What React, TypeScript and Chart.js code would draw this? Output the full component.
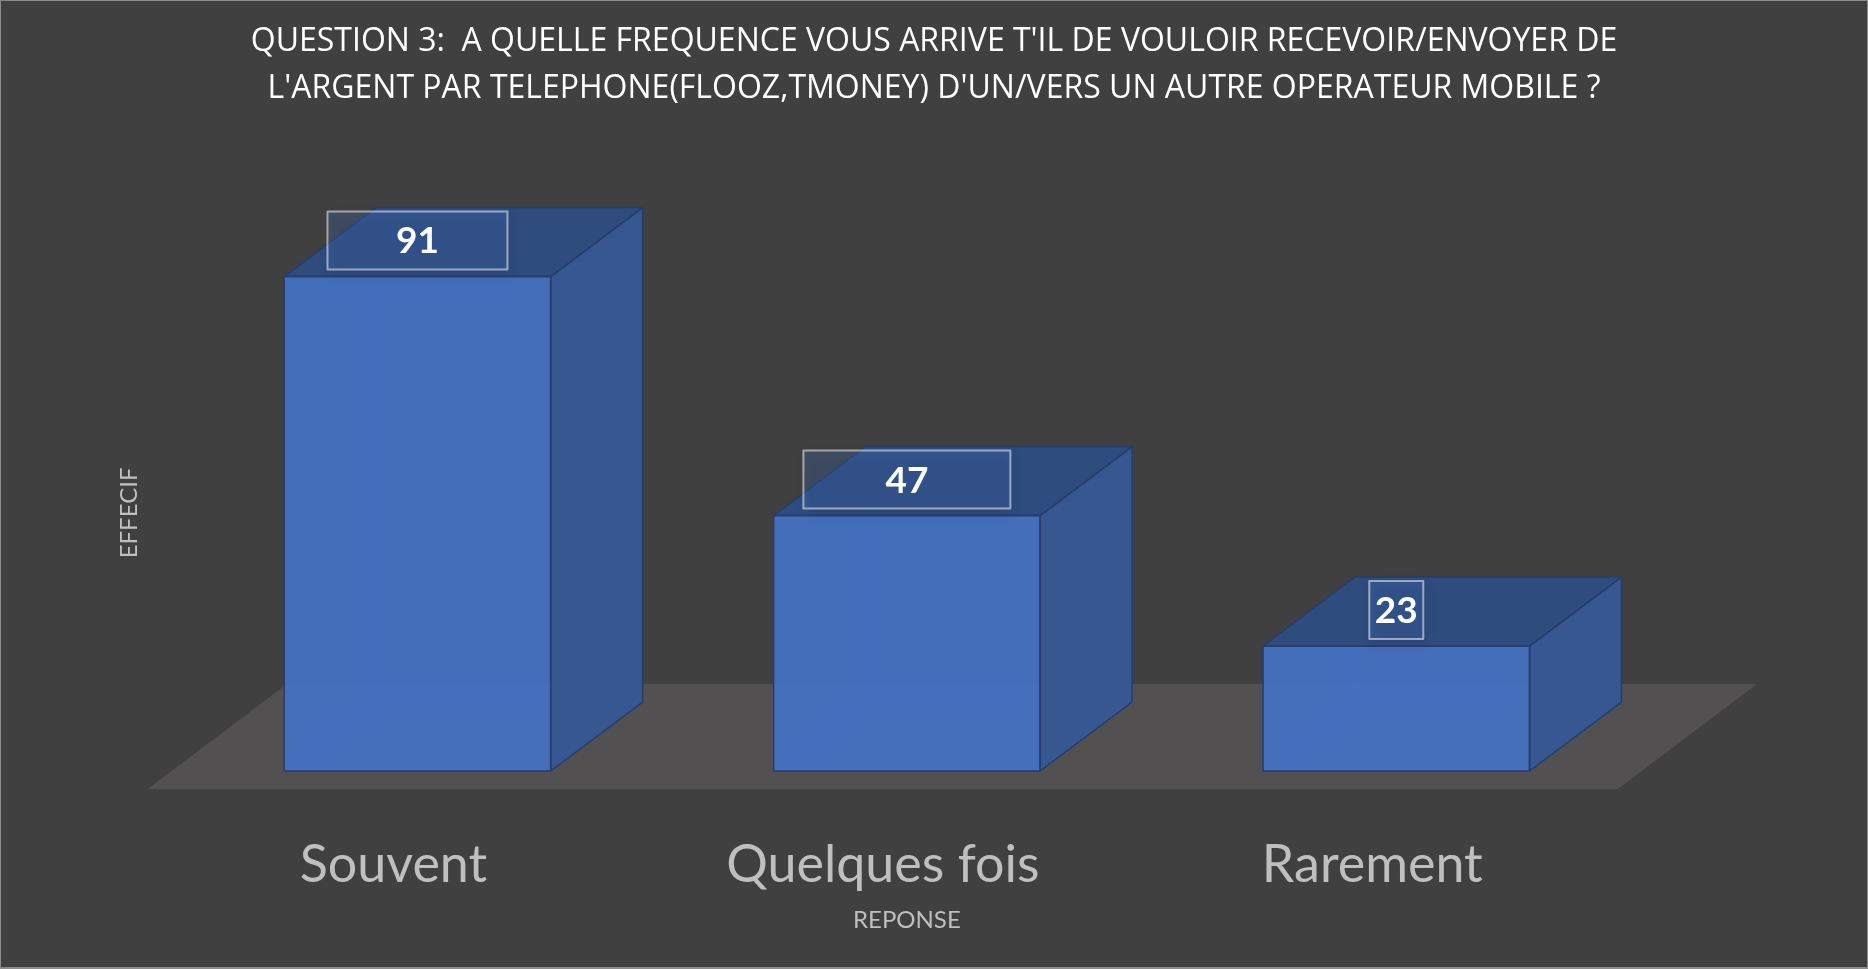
import React, { useEffect, useRef } from 'react';
import { Chart, registerables } from 'chart.js';

Chart.register(...registerables);

// ---- data ----
const categories = ['Souvent', 'Quelques fois', 'Rarement'];
const values = [91, 47, 23];
const titleLines = [
  "QUESTION 3:  A QUELLE FREQUENCE VOUS ARRIVE T'IL DE VOULOIR RECEVOIR/ENVOYER DE",
  "L'ARGENT PAR TELEPHONE(FLOOZ,TMONEY) D'UN/VERS UN AUTRE OPERATEUR MOBILE ?",
];
const xAxisTitle = 'REPONSE';
const yAxisTitle = 'EFFECIF';

// ---- styles ----
const labelBoxWidths = [180, 207, 54];
const BG = 'rgb(64,64,64)';
const FLOOR = 'rgb(82,80,80)';
const FRONT = 'rgba(68,114,196,0.92)';
const SIDE = 'rgb(54,87,143)';
const TOP = 'rgb(46,76,126)';
const EDGE = 'rgb(37,62,110)';
const INNER = 'rgba(40,80,150,0.9)';
const DEPTH_RATIO = 0.345;
const DEPTH_SLOPE = 0.75;

const bar3d = {
  id: 'bar3d',
  beforeDraw(chart: any) {
    const { ctx, width, height } = chart;
    ctx.save();
    ctx.fillStyle = BG;
    ctx.fillRect(0, 0, width, height);
    ctx.strokeStyle = 'rgb(140,140,140)';
    ctx.lineWidth = 1;
    ctx.strokeRect(0.5, 0.5, width - 1, height - 1);
    ctx.fillStyle = 'rgb(140,140,140)';
    ctx.fillRect(0, height - 2, width, 2);
    ctx.restore();
  },
  beforeDatasetsDraw(chart: any) {
    const { ctx, chartArea } = chart;
    const base = chart.scales.y.getPixelForValue(0);
    // floor
    const fy = base + 18;
    const fl = chartArea.left - 25;
    const fr = chartArea.right - 23;
    const fdx = 139;
    const fdy = 105;
    ctx.save();
    ctx.fillStyle = FLOOR;
    ctx.beginPath();
    ctx.moveTo(fl, fy);
    ctx.lineTo(fr, fy);
    ctx.lineTo(fr + fdx, fy - fdy);
    ctx.lineTo(fl + fdx, fy - fdy);
    ctx.closePath();
    ctx.fill();
    // hidden inner edges of each box
    const meta = chart.getDatasetMeta(0);
    meta.data.forEach((el: any) => {
      const w = el.width;
      const left = el.x - w / 2;
      const right = el.x + w / 2;
      const dx = w * DEPTH_RATIO;
      const dy = dx * DEPTH_SLOPE;
      const top = el.y;
      const b = el.base;
      ctx.strokeStyle = INNER;
      ctx.lineWidth = 1.5;
      ctx.beginPath();
      ctx.moveTo(left + dx, top - dy);
      ctx.lineTo(left + dx, b - dy);
      ctx.lineTo(right + dx, b - dy);
      ctx.moveTo(left, b);
      ctx.lineTo(left + dx, b - dy);
      ctx.stroke();
    });
    ctx.restore();
  },
  afterDatasetsDraw(chart: any) {
    const { ctx } = chart;
    const meta = chart.getDatasetMeta(0);
    ctx.save();
    meta.data.forEach((el: any, i: number) => {
      const w = el.width;
      const left = el.x - w / 2;
      const right = el.x + w / 2;
      const dx = w * DEPTH_RATIO;
      const dy = dx * DEPTH_SLOPE;
      const top = el.y;
      const b = el.base;
      ctx.lineWidth = 1.5;
      ctx.strokeStyle = EDGE;
      ctx.lineJoin = 'round';
      // side face
      ctx.fillStyle = SIDE;
      ctx.beginPath();
      ctx.moveTo(right, top);
      ctx.lineTo(right + dx, top - dy);
      ctx.lineTo(right + dx, b - dy);
      ctx.lineTo(right, b);
      ctx.closePath();
      ctx.fill();
      ctx.stroke();
      // top face
      ctx.fillStyle = TOP;
      ctx.beginPath();
      ctx.moveTo(left, top);
      ctx.lineTo(left + dx, top - dy);
      ctx.lineTo(right + dx, top - dy);
      ctx.lineTo(right, top);
      ctx.closePath();
      ctx.fill();
      ctx.stroke();
      // front outline
      ctx.strokeRect(left, top, w, b - top);

      // data label box
      const bw = labelBoxWidths[i];
      const bh = 58;
      const cx = el.x;
      const cy = top - 36;
      ctx.save();
      ctx.shadowColor = 'rgba(0,0,0,0.35)';
      ctx.shadowBlur = 12;
      ctx.shadowOffsetX = 3;
      ctx.shadowOffsetY = 4;
      ctx.fillStyle = 'rgba(68,114,196,0.25)';
      ctx.fillRect(cx - bw / 2, cy - bh / 2, bw, bh);
      ctx.restore();
      ctx.strokeStyle = 'rgba(230,230,230,0.6)';
      ctx.lineWidth = 2;
      ctx.strokeRect(cx - bw / 2, cy - bh / 2, bw, bh);
      ctx.fillStyle = '#ffffff';
      ctx.font = 'bold 37px Lato, "Open Sans", sans-serif';
      ctx.textAlign = 'center';
      ctx.textBaseline = 'middle';
      ctx.fillText(String(values[i]), cx, cy + 1);
    });
    ctx.restore();
  },
};

export default function App() {
  const ref = useRef<HTMLCanvasElement>(null);
  useEffect(() => {
    document.body.style.margin = '0';
    document.body.style.background = BG;
    Chart.defaults.font.family = 'Lato, "Open Sans", sans-serif';
    const chart = new Chart(ref.current as HTMLCanvasElement, {
      type: 'bar',
      data: {
        labels: categories,
        datasets: [
          {
            data: values,
            backgroundColor: FRONT,
            borderWidth: 0,
            barPercentage: 0.5444,
            categoryPercentage: 1,
          },
        ],
      },
      options: {
        responsive: false,
        animation: false,
        devicePixelRatio: 1,
        layout: { padding: 0 },
        plugins: {
          legend: { display: false },
          tooltip: { enabled: false },
          title: {
            display: true,
            text: titleLines,
            color: '#ffffff',
            font: { family: '"Open Sans", Lato, sans-serif', size: 32, weight: 'normal', lineHeight: 1.45 },
            padding: { top: 19, bottom: 143 },
          },
        },
        scales: {
          x: {
            grid: { display: false, drawTicks: false },
            border: { display: false },
            ticks: {
              color: '#bfbfbf',
              font: { size: 52 },
              padding: 63,
              labelOffset: -24,
              maxRotation: 0,
              autoSkip: false,
            },
            title: {
              display: true,
              text: xAxisTitle,
              color: '#bfbfbf',
              font: { size: 24 },
              padding: { top: 0, bottom: 34 },
            },
            afterFit: (s: any) => {
              s.height = 198;
            },
          },
          y: {
            min: 0,
            max: 95,
            grid: { display: false, drawTicks: false },
            border: { display: false },
            ticks: { display: false },
            title: {
              display: true,
              text: yAxisTitle,
              color: '#bfbfbf',
              font: { size: 24 },
              padding: { top: 115, bottom: 0 },
            },
            afterFit: (s: any) => {
              s.width = 172.75;
            },
          },
          yRight: {
            position: 'right',
            display: true,
            grid: { display: false, drawTicks: false },
            border: { display: false },
            ticks: { display: false },
            afterFit: (s: any) => {
              s.width = 227;
            },
          },
        },
      },
      plugins: [bar3d],
    } as any);
    return () => chart.destroy();
  }, []);
  return (
    <canvas
      ref={ref}
      width={1868}
      height={969}
      style={{ display: 'block', width: 1868, height: 969 }}
    />
  );
}
